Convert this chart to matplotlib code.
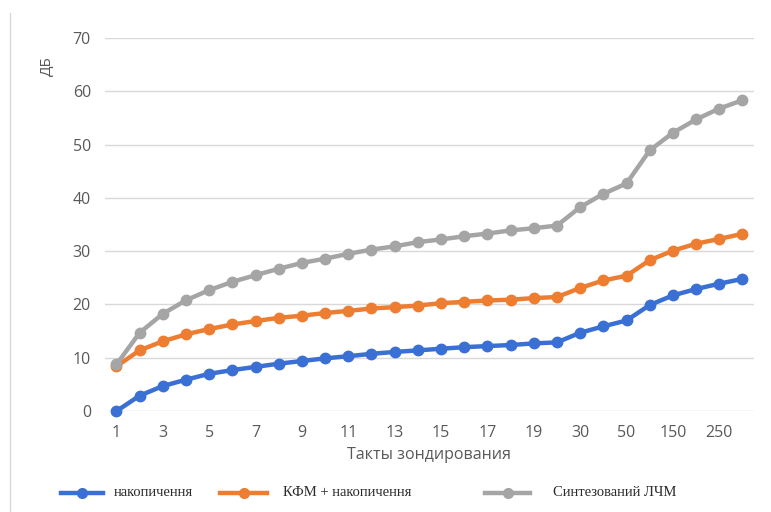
import matplotlib.pyplot as plt
from matplotlib.lines import Line2D

# ── data ─────────────────────────────────────────────────────────────────────
categories = [str(i) for i in range(1, 21)] + ["30", "40", "50", "100", "150", "200", "250", "300"]

accum = [0.0, 2.9, 4.7, 5.9, 7.0, 7.7, 8.3, 8.9, 9.4, 9.9, 10.3, 10.75,
         11.1, 11.4, 11.7, 12.0, 12.2, 12.4, 12.7, 12.9,
         14.7, 15.9, 17.0, 19.9, 21.7, 22.9, 23.9, 24.8]
kfm_accum = [8.4, 11.4, 13.1, 14.4, 15.4, 16.25, 16.9, 17.5, 17.9, 18.4, 18.8, 19.25,
             19.5, 19.8, 20.25, 20.5, 20.75, 20.9, 21.2, 21.4,
             23.1, 24.5, 25.4, 28.3, 30.1, 31.4, 32.3, 33.25]
lfm = [8.75, 14.7, 18.25, 20.8, 22.7, 24.25, 25.5, 26.7, 27.8, 28.6, 29.5, 30.3,
       30.9, 31.7, 32.2, 32.8, 33.3, 33.9, 34.3, 34.8,
       38.25, 40.75, 42.7, 48.9, 52.2, 54.7, 56.75, 58.3]

series_names = ["накопичення", "КФМ + накопичення", "Синтезований ЛЧМ"]
colors = ["#3a6fd4", "#ed7d31", "#a5a5a5"]

# ── figure ───────────────────────────────────────────────────────────────────
W, H = 771, 512
fig = plt.figure(figsize=(W / 100, H / 100), dpi=100)
ax = fig.add_axes([0.136, 0.197, 0.842, 0.729])

x = list(range(len(categories)))
for vals, col in zip([accum, kfm_accum, lfm], colors):
    ax.plot(x, vals, color=col, lw=3.2, marker="o", ms=7.5, clip_on=False, zorder=3)

ax.set_xlim(-0.5, len(categories) - 0.5)
ax.set_ylim(0, 70)
ax.set_yticks(range(0, 71, 10))
ax.set_xticks(x[::2])
ax.set_xticklabels(categories[::2])
ax.grid(axis="y", color="#d9d9d9", lw=1)
ax.set_axisbelow(True)
for s in ax.spines.values():
    s.set_visible(False)
ax.tick_params(length=0, labelsize=11.5, labelcolor="#595959", pad=10)
for lab in ax.get_xticklabels() + ax.get_yticklabels():
    lab.set_family("Open Sans")

ax.set_xlabel("Такты зондирования", fontsize=11.5, color="#595959",
              family="Open Sans", labelpad=4)
fig.text(0.062, 0.87, "ДБ", rotation=90, ha="center", va="center",
         fontsize=11, color="#595959", family="Open Sans")

# chart frame on the left
fig.add_artist(Line2D([0.013, 0.013], [0.0, 0.975], color="#d9d9d9", lw=1))

# legend, drawn by hand (pixel positions from the reference)
leg_y = 1 - 493 / H
handle_px = [(61, 103), (220, 267), (485, 530)]
text_px = [114, 283, 553]
for name, col, (x0, x1), tx in zip(series_names, colors, handle_px, text_px):
    fig.add_artist(Line2D([x0 / W, x1 / W], [leg_y, leg_y], color=col, lw=3.2))
    fig.add_artist(Line2D([(x0 + x1) / 2 / W], [leg_y], color=col, marker="o", ms=7))
    fig.text(tx / W, leg_y, name, ha="left", va="center", color="#2a2a2a",
             family="Liberation Serif", fontsize=10.5)

plt.savefig("out.png", dpi=100)
